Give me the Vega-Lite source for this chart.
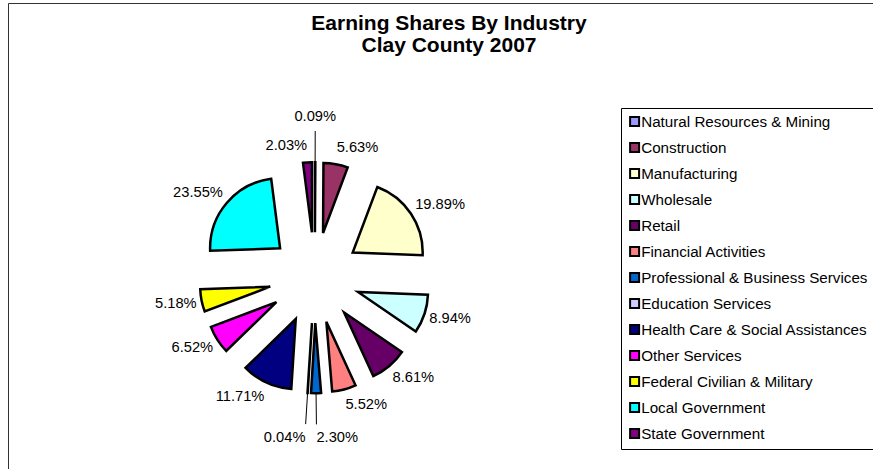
{
  "$schema": "https://vega.github.io/schema/vega-lite/v6.json",
  "width": 866,
  "height": 467,
  "autosize": {"type": "none"},
  "padding": {"left": 8, "top": 3, "right": -1, "bottom": -1},
  "background": "white",
  "title": {
    "text": ["Earning Shares By Industry", "Clay County 2007"],
    "font": "Liberation Sans",
    "fontSize": 21,
    "fontWeight": "bold",
    "color": "#000",
    "anchor": "middle",
    "frame": "group",
    "baseline": "top",
    "offset": 0,
    "dy": 52.5,
    "dx": 8,
    "lineHeight": 22
  },
  "data": {
    "values": [
      {"order": 1, "industry": "Natural Resources & Mining", "share": 0.0009},
      {"order": 2, "industry": "Construction", "share": 0.0563},
      {"order": 3, "industry": "Manufacturing", "share": 0.1989},
      {"order": 4, "industry": "Wholesale", "share": 0.0894},
      {"order": 5, "industry": "Retail", "share": 0.0861},
      {"order": 6, "industry": "Financial Activities", "share": 0.0552},
      {"order": 7, "industry": "Professional & Business Services", "share": 0.0230},
      {"order": 8, "industry": "Education Services", "share": 0.0004},
      {"order": 9, "industry": "Health Care & Social Assistances", "share": 0.1171},
      {"order": 10, "industry": "Other Services", "share": 0.0652},
      {"order": 11, "industry": "Federal Civilian & Military", "share": 0.0518},
      {"order": 12, "industry": "Local Government", "share": 0.2355},
      {"order": 13, "industry": "State Government", "share": 0.0203}
    ]
  },
  "transform": [
    {"joinaggregate": [{"op": "sum", "field": "share", "as": "total"}]},
    {"window": [{"op": "sum", "field": "share", "as": "cum"}], "sort": [{"field": "order", "order": "ascending"}], "frame": [null, 0]},
    {"calculate": "(datum.cum - datum.share) / datum.total", "as": "t0"},
    {"calculate": "datum.cum / datum.total", "as": "t1"},
    {"calculate": "(datum.t0 + datum.t1) * PI", "as": "mid"},
    {"calculate": "45.5 * sin(datum.mid)", "as": "ex"},
    {"calculate": "-45.5 * cos(datum.mid)", "as": "ey"},
    {"calculate": "datum.share < 0.005 || (datum.share < 0.03 && cos(datum.mid) < 0)", "as": "far"},
    {"calculate": "datum.far ? 149.7 : 120.5", "as": "lr"},
    {"calculate": "datum.lr * sin(datum.mid)", "as": "lx"},
    {"calculate": "-datum.lr * cos(datum.mid) - 11 * cos(datum.mid)", "as": "ly"},
    {"calculate": "datum.far ? (cos(datum.mid) > 0 ? 'center' : (sin(datum.mid) < 0 ? 'right' : 'left')) : (sin(datum.mid) > 0.1 ? 'left' : (sin(datum.mid) < -0.05 ? 'right' : 'center'))", "as": "side"},
    {"calculate": "116 * sin(datum.mid)", "as": "rx1"},
    {"calculate": "-116 * cos(datum.mid)", "as": "ry1"},
    {"calculate": "(datum.lr - 3) * sin(datum.mid)", "as": "rx2"},
    {"calculate": "-(datum.lr - 3) * cos(datum.mid)", "as": "ry2"}
  ],
  "layer": [
    {
      "mark": {"type": "arc", "outerRadius": 70, "stroke": "#000", "strokeWidth": 2.5, "strokeJoin": "miter"},
      "encoding": {
        "x": {"field": "ex", "type": "quantitative", "scale": {"domain": [-300, 300], "range": [6.8, 606.8], "nice": false, "zero": false}, "axis": null},
        "y": {"field": "ey", "type": "quantitative", "scale": {"domain": [-300, 300], "range": [-25.3, 574.7], "nice": false, "zero": false}, "axis": null},
        "theta": {"field": "t0", "type": "quantitative", "stack": null, "scale": {"domain": [0, 1], "range": [0, 6.283185307179586]}},
        "theta2": {"field": "t1"},
        "color": {
          "field": "industry",
          "type": "nominal",
          "scale": {
            "domain": ["Natural Resources & Mining", "Construction", "Manufacturing", "Wholesale", "Retail", "Financial Activities", "Professional & Business Services", "Education Services", "Health Care & Social Assistances", "Other Services", "Federal Civilian & Military", "Local Government", "State Government"],
            "range": ["#9999FF", "#993366", "#FFFFCC", "#CCFFFF", "#660066", "#FF8080", "#0066CC", "#CCCCFF", "#000080", "#FF00FF", "#FFFF00", "#00FFFF", "#800080"]
          },
          "legend": {
            "title": null,
            "orient": "none",
            "legendX": 613,
            "legendY": 105,
            "symbolType": "square",
            "symbolSize": 81,
            "symbolStrokeColor": "#000",
            "symbolStrokeWidth": 2,
            "symbolOpacity": 1,
            "labelFont": "Liberation Sans",
            "labelFontSize": 15.2,
            "labelColor": "#000",
            "labelOffset": -1,
            "labelLimit": 400,
            "rowPadding": 8,
            "padding": 6,
            "strokeColor": "#000"
          }
        }
      }
    },
    {
      "transform": [{"filter": "datum.far"}],
      "mark": {"type": "rule", "color": "#000", "strokeWidth": 1},
      "encoding": {
        "x": {"field": "rx1", "type": "quantitative"},
        "y": {"field": "ry1", "type": "quantitative"},
        "x2": {"field": "rx2"},
        "y2": {"field": "ry2"}
      }
    },
    {
      "transform": [{"filter": "datum.side == 'left'"}],
      "mark": {"type": "text", "align": "left", "baseline": "middle", "font": "Liberation Sans", "fontSize": 14.7, "color": "#000"},
      "encoding": {
        "x": {"field": "lx", "type": "quantitative"},
        "y": {"field": "ly", "type": "quantitative"},
        "text": {"field": "share", "type": "quantitative", "format": ".2%"}
      }
    },
    {
      "transform": [{"filter": "datum.side == 'right'"}],
      "mark": {"type": "text", "align": "right", "baseline": "middle", "font": "Liberation Sans", "fontSize": 14.7, "color": "#000"},
      "encoding": {
        "x": {"field": "lx", "type": "quantitative"},
        "y": {"field": "ly", "type": "quantitative"},
        "text": {"field": "share", "type": "quantitative", "format": ".2%"}
      }
    },
    {
      "transform": [{"filter": "datum.side == 'center'"}],
      "mark": {"type": "text", "align": "center", "baseline": "middle", "font": "Liberation Sans", "fontSize": 14.7, "color": "#000"},
      "encoding": {
        "x": {"field": "lx", "type": "quantitative"},
        "y": {"field": "ly", "type": "quantitative"},
        "text": {"field": "share", "type": "quantitative", "format": ".2%"}
      }
    }
  ],
  "config": {
    "view": {"stroke": "#333", "strokeWidth": 1}
  }
}
